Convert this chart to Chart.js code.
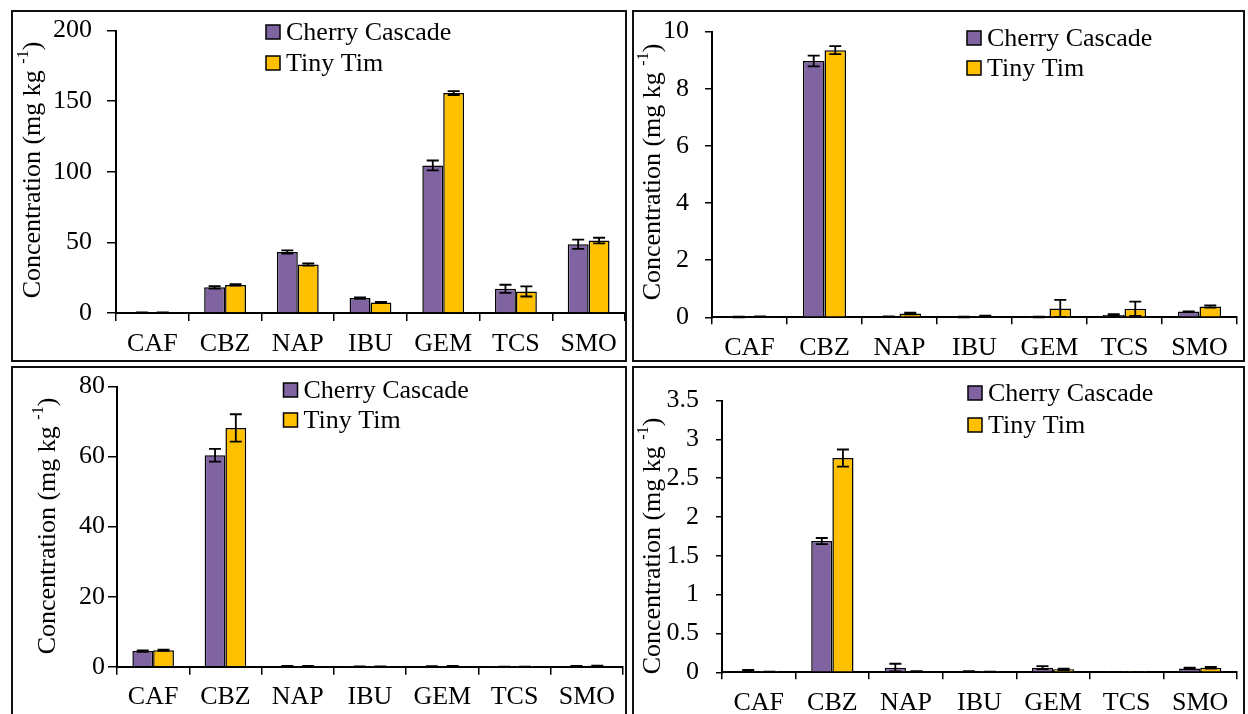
<!DOCTYPE html>
<html>
<head>
<meta charset="utf-8">
<script src="https://cdn.jsdelivr.net/npm/chart.js@4.4.1/dist/chart.umd.min.js"></script>
<style>
  html, body { margin: 0; padding: 0; background: #fff; }
  #page { position: relative; width: 1248px; height: 714px; overflow: hidden; background: #fff; }
  .frame { position: absolute; box-sizing: border-box; border: 2px solid #111; }
  canvas { position: absolute; }
</style>
</head>
<body>
<div id="page">
  <div class="frame" style="left:11px;top:10px;width:616px;height:352px"></div>
  <div class="frame" style="left:632px;top:10px;width:613px;height:352px"></div>
  <div class="frame" style="left:11px;top:366px;width:616px;height:360px"></div>
  <div class="frame" style="left:632px;top:366px;width:613px;height:360px"></div>
  <canvas id="c1" width="612" height="360" style="left:13px;top:0px"></canvas>
  <canvas id="c2" width="609" height="360" style="left:634px;top:0px"></canvas>
  <canvas id="c3" width="612" height="346" style="left:13px;top:368px"></canvas>
  <canvas id="c4" width="609" height="346" style="left:634px;top:368px"></canvas>
</div>
<script>
const categories = ['CAF', 'CBZ', 'NAP', 'IBU', 'GEM', 'TCS', 'SMO'];
const seriesNames = ['Cherry Cascade', 'Tiny Tim'];

// top left
const p1Cherry = [0.4, 18.2, 43.2, 10.6, 104.5, 17.1, 48.7];
const p1CherryErr = [0.1, 0.9, 1.2, 0.5, 3.5, 2.9, 3.3];
const p1Tiny = [0.3, 19.9, 34.4, 7.4, 155.8, 15.3, 51.3];
const p1TinyErr = [0.1, 0.5, 0.8, 0.4, 1.4, 3.6, 2.0];
const p1Ticks = [0, 50, 100, 150, 200];

// top right
const p2Cherry = [0.01, 8.97, 0.02, 0.01, 0.01, 0.08, 0.2];
const p2CherryErr = [0.01, 0.19, 0.01, 0.01, 0.01, 0.03, 0.01];
const p2Tiny = [0.02, 9.35, 0.13, 0.04, 0.31, 0.3, 0.38];
const p2TinyErr = [0.01, 0.14, 0.03, 0.02, 0.3, 0.25, 0.04];
const p2Ticks = [0, 2, 4, 6, 8, 10];

// bottom left
const p3Cherry = [4.45, 60.4, 0.15, 0.05, 0.1, 0.02, 0.2];
const p3CherryErr = [0.2, 1.8, 0.05, 0.02, 0.05, 0.01, 0.05];
const p3Tiny = [4.7, 68.2, 0.2, 0.05, 0.2, 0.02, 0.25];
const p3TinyErr = [0.2, 3.9, 0.05, 0.02, 0.05, 0.01, 0.05];
const p3Ticks = [0, 20, 40, 60, 80];

// bottom right
const p4Cherry = [0.02, 1.69, 0.06, 0.01, 0.06, 0.002, 0.05];
const p4CherryErr = [0.01, 0.04, 0.05, 0.005, 0.02, 0.001, 0.01];
const p4Tiny = [0.005, 2.76, 0.01, 0.005, 0.038, 0.002, 0.058];
const p4TinyErr = [0.002, 0.11, 0.005, 0.003, 0.01, 0.001, 0.01];
const p4Ticks = [0, 0.5, 1, 1.5, 2, 2.5, 3, 3.5];

const purple = '#8064A2';
const gold = '#FFC000';
const serif = "'Liberation Serif', 'Times New Roman', serif";
const tickFont = { family: serif, size: 26, lineHeight: 1.2 };

// error bars, the in-plot legend and the y title with its superscript
const panelDecor = {
  id: 'panelDecor',
  afterDatasetsDraw(chart) {
    const ctx = chart.ctx;
    const y = chart.scales.y;
    ctx.save();
    ctx.strokeStyle = '#000';
    ctx.lineWidth = 1.8;
    chart.data.datasets.forEach((ds, di) => {
      chart.getDatasetMeta(di).data.forEach((bar, i) => {
        const err = ds.errors[i];
        const top = y.getPixelForValue(ds.data[i] + err);
        const bot = y.getPixelForValue(Math.max(ds.data[i] - err, 0));
        ctx.beginPath();
        ctx.moveTo(bar.x, top);
        ctx.lineTo(bar.x, bot);
        ctx.moveTo(bar.x - 6, top);
        ctx.lineTo(bar.x + 6, top);
        ctx.moveTo(bar.x - 6, bot);
        ctx.lineTo(bar.x + 6, bot);
        ctx.stroke();
      });
    });
    ctx.restore();
  },
  afterDraw(chart, args, opts) {
    const ctx = chart.ctx;
    ctx.save();
    ctx.fillStyle = '#000';
    ctx.textBaseline = 'middle';
    ctx.font = '26px ' + serif;

    // legend
    chart.data.datasets.forEach((ds, i) => {
      const ry = opts.legendY + i * opts.legendGap;
      ctx.fillStyle = ds.backgroundColor;
      ctx.fillRect(opts.legendX, ry - 7, 14, 14);
      ctx.strokeStyle = '#000';
      ctx.lineWidth = 1.5;
      ctx.strokeRect(opts.legendX, ry - 7, 14, 14);
      ctx.fillStyle = '#000';
      ctx.textAlign = 'left';
      ctx.fillText(ds.label, opts.legendX + 20, ry + 1);
    });

    // rotated axis title
    const main = 'Concentration (mg kg ';
    const sup = '-1';
    const tail = ')';
    ctx.translate(opts.titleX, opts.titleY);
    ctx.rotate(-Math.PI / 2);
    ctx.font = '26px ' + serif;
    const w1 = ctx.measureText(main).width;
    const w3 = ctx.measureText(tail).width;
    ctx.font = '16px ' + serif;
    const w2 = ctx.measureText(sup).width;
    let x0 = -(w1 + w2 + w3) / 2;
    ctx.textAlign = 'left';
    ctx.font = '26px ' + serif;
    ctx.fillText(main, x0, 0);
    ctx.font = '16px ' + serif;
    ctx.fillText(sup, x0 + w1, -9);
    ctx.font = '26px ' + serif;
    ctx.fillText(tail, x0 + w1 + w2, 0);
    ctx.restore();
  }
};

function makePanel(id, cherry, cherryErr, tiny, tinyErr, yTicks, lay) {
  new Chart(document.getElementById(id), {
    type: 'bar',
    data: {
      labels: categories,
      datasets: [
        { label: seriesNames[0], data: cherry, errors: cherryErr, backgroundColor: purple,
          borderColor: '#000', borderWidth: 1.5 },
        { label: seriesNames[1], data: tiny, errors: tinyErr, backgroundColor: gold,
          borderColor: '#000', borderWidth: 1.5 }
      ]
    },
    options: {
      responsive: false,
      animation: false,
      devicePixelRatio: 1,
      layout: { padding: { top: lay.top, right: lay.right, left: 0, bottom: 0 } },
      datasets: { bar: { categoryPercentage: 0.575, barPercentage: 1 } },
      plugins: {
        legend: { display: false },
        tooltip: { enabled: false },
        panelDecor: {
          legendX: lay.legendX, legendY: lay.legendY, legendGap: lay.legendGap,
          titleX: lay.titleX, titleY: lay.titleY
        }
      },
      scales: {
        x: {
          grid: { drawOnChartArea: false, offset: true, color: '#000', lineWidth: 1.5, tickLength: lay.xTick },
          border: { color: '#000', width: 2 },
          ticks: { color: '#000', font: tickFont, padding: lay.xPad, maxRotation: 0, autoSkip: false },
          afterFit(s) { s.height = lay.xHeight; }
        },
        y: {
          min: 0,
          max: yTicks[yTicks.length - 1],
          afterBuildTicks(s) { s.ticks = yTicks.map(v => ({ value: v })); },
          grid: { drawOnChartArea: false, color: '#000', lineWidth: 1.5, tickLength: lay.yTick },
          border: { color: '#000', width: 2 },
          ticks: { color: '#000', font: tickFont, padding: lay.yPad, callback: v => String(v) },
          afterFit(s) { s.width = lay.left; }
        }
      }
    },
    plugins: [panelDecor]
  });
}

makePanel('c1', p1Cherry, p1CherryErr, p1Tiny, p1TinyErr, p1Ticks, {
  left: 103, right: 0, top: 24.5, xHeight: 47, yTick: 9, yPad: 15, xTick: 8, xPad: 8,
  legendX: 253, legendY: 32, legendGap: 31, titleX: 20, titleY: 170
});
makePanel('c2', p2Cherry, p2CherryErr, p2Tiny, p2TinyErr, p2Ticks, {
  left: 78, right: 6, top: 26, xHeight: 42.7, yTick: 7, yPad: 16, xTick: 7, xPad: 8,
  legendX: 333, legendY: 38, legendGap: 30, titleX: 19, titleY: 172
});
makePanel('c3', p3Cherry, p3CherryErr, p3Tiny, p3TinyErr, p3Ticks, {
  left: 104, right: 2, top: 17, xHeight: 47.3, yTick: 9, yPad: 3, xTick: 8, xPad: 7,
  legendX: 270.5, legendY: 22, legendGap: 30, titleX: 35, titleY: 158
});
makePanel('c4', p4Cherry, p4CherryErr, p4Tiny, p4TinyErr, p4Ticks, {
  left: 88, right: 6, top: 28.7, xHeight: 41.7, yTick: 6, yPad: 17, xTick: 7, xPad: 8,
  legendX: 334, legendY: 25, legendGap: 32, titleX: 19, titleY: 178
});
</script>
</body>
</html>
